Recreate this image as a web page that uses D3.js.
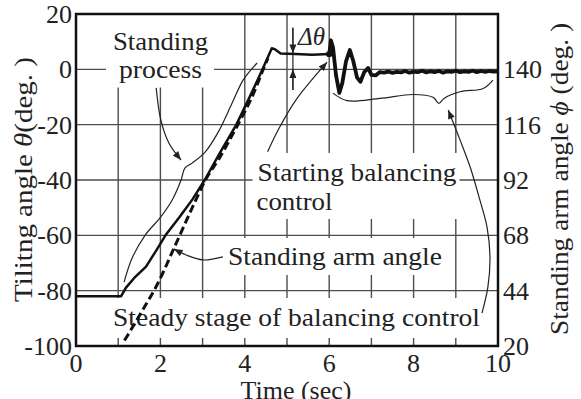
<!doctype html>
<html>
<head>
<meta charset="utf-8">
<script src="https://cdnjs.cloudflare.com/ajax/libs/d3/7.8.5/d3.min.js"></script>
<style>
  body { margin: 0; background: #fff; }
  #chart text { font-family: "Liberation Serif", "Times New Roman", serif; fill: #222; }
</style>
</head>
<body>
<svg id="chart" width="581" height="399"></svg>
<script>
// tilting angle theta while standing up (deg, left axis)
var riseTime  = [0, 1.07, 1.18, 1.38, 1.66, 1.9, 2.12, 2.45, 2.76, 3.05, 3.4, 3.8, 4.1, 4.42, 4.64, 4.72, 4.85, 5.2, 5.6, 6.0];
var riseTheta = [-82, -82, -79, -75.4, -71.3, -65.5, -60, -53.5, -47, -40, -30.5, -20, -10.5, 0, 7.6, 7.2, 5.7, 5.5, 5.3, 5.5];
// tilting angle theta after balancing control starts
var balTime  = [6.0, 6.04, 6.09, 6.16, 6.24, 6.31, 6.4, 6.49, 6.57, 6.66, 6.74, 6.83, 6.92, 7.0, 7.1, 7.2,
                7.3, 7.4, 7.5, 7.6, 7.7, 7.8, 7.9, 8.0, 8.1, 8.2, 8.3, 8.4, 8.5, 8.6, 8.7, 8.8, 8.9,
                9.0, 9.1, 9.2, 9.3, 9.4, 9.5, 9.6, 9.7, 9.8, 9.9, 10];
var balTheta = [5.5, 10.5, 8, -2, -8.5, -5, 3, 7, 3, -3, -4.5, -1, 0.5, -2, -2.2, -1,
                -1.2, -0.8, -1.3, -0.9, -1.1, -0.6, -1.2, -0.8, -1.0, -0.5, -1.1, -0.7, -1.0, -0.6, -1.2, -0.7, -0.9,
                -0.5, -1.0, -0.7, -0.9, -0.5, -1.0, -0.6, -0.9, -0.6, -0.8, -0.7];
// standing arm angle phi (deg, right axis)
var armTime = [1.15, 1.58, 1.94, 2.37, 2.8, 3.05, 3.4, 3.8, 4.2, 4.45, 4.55];
var armPhi  = [22.4, 35.6, 47.2, 64.4, 81.8, 91.4, 101.6, 114.8, 129.2, 140.6, 144.8];

var xTicks = [0, 2, 4, 6, 8, 10];
var leftTicks = [-100, -80, -60, -40, -20, 0, 20];
var rightTicks = [20, 44, 68, 92, 116, 140];
var vGrid = [1, 2, 3, 4, 5, 6, 7, 8, 9];
var hGrid = [-80, -60, -40, -20, 0];

// annotation shapes, in (time, theta)
var riseBrace = [[1.14,-76.9],[1.33,-68.2],[1.64,-59.9],[1.99,-53.7],[2.28,-47.2],[2.49,-40],[2.58,-35.7],
                 [2.75,-33.9],[3.06,-29.9],[3.37,-22.7],[3.7,-12.2],[3.96,-3.9],[4.29,2.3]];
var steadyBrace = [[6.09,-8.6],[6.42,-11.3],[7.2,-10.5],[7.99,-9.1],[8.46,-10.1],[8.6,-12.3],[8.72,-10.5],
                   [9.1,-8.1],[9.65,-6.9],[9.88,-3.9]];
var processArrow = [[1.9,-6.7],[2.01,-18.3],[2.2,-26.6],[2.49,-32.8]];
var startArrow = [[4.54,-29.8],[4.79,-21.9],[5.21,-11.1],[5.95,2.6]];
var armArrow = [[3.48,-67.8],[3.01,-68.9],[2.61,-67.1],[2.32,-64.9]];
var steadyArrow = [[9.62,-88.1],[9.76,-78.7],[9.81,-67.8],[9.74,-57],[9.57,-47.2],[9.34,-35.3],[9.1,-25.5],[8.82,-14.7]];

var svg = d3.select("#chart"),
    plotL = 76, plotR = 498, plotT = 14, plotB = 346;

var x = d3.scaleLinear().domain([0, 10]).range([plotL, plotR]);
var y = d3.scaleLinear().domain([-100, 20]).range([plotB, plotT]);
var yr = d3.scaleLinear().domain([20, 164]).range([plotB, plotT]);

svg.append("defs").append("marker")
    .attr("id", "arrow")
    .attr("viewBox", "0 0 10 8")
    .attr("refX", 10).attr("refY", 4)
    .attr("markerWidth", 10).attr("markerHeight", 7)
    .attr("markerUnits", "userSpaceOnUse")
    .attr("orient", "auto")
    .append("path").attr("d", "M0,0L10,4L0,8z").attr("fill", "#222");

// grid
var grid = svg.append("g").attr("stroke", "#4d4d4d").attr("stroke-width", 1.4);
grid.selectAll(".v").data(vGrid).enter().append("line")
    .attr("x1", d => x(d)).attr("x2", d => x(d))
    .attr("y1", y(20)).attr("y2", y(-100));
grid.selectAll(".h").data(hGrid).enter().append("line")
    .attr("x1", x(0)).attr("x2", x(10))
    .attr("y1", d => y(d)).attr("y2", d => y(d));

// labels in the plot, each with a white box that breaks the grid
var notes = [
  {lines: [{s: "Standing", x: 160.5, y: 50, w: 95}, {s: "process", x: 160.5, y: 77.5, w: 83}], anchor: "middle", pad: [14, 6, 4, 7]},
  {lines: [{s: "Starting balancing", x: 257.5, y: 181, w: 199}, {s: "control", x: 256.5, y: 210, w: 76}], anchor: "start", pad: [5, 3, 3, 4]},
  {lines: [{s: "Standing arm angle", x: 228, y: 265, w: 214}], anchor: "start", pad: [4, 3, 4, 2]},
  {lines: [{s: "Steady stage of balancing control", x: 113, y: 326, w: 367}], anchor: "start", pad: [5, 2, 6, 3]}
];
var boxLayer = svg.append("g");
var textLayer = svg.append("g");
notes.forEach(function(n) {
    var x0 = 1e9, y0 = 1e9, x1 = -1e9, y1 = -1e9;
    n.lines.forEach(function(l) {
        var t = textLayer.append("text")
            .attr("x", l.x).attr("y", l.y)
            .attr("text-anchor", n.anchor)
            .attr("font-size", 26)
            .attr("textLength", l.w)
            .attr("lengthAdjust", "spacingAndGlyphs")
            .text(l.s);
        var b = t.node().getBBox();
        x0 = Math.min(x0, b.x); y0 = Math.min(y0, b.y);
        x1 = Math.max(x1, b.x + b.width); y1 = Math.max(y1, b.y + b.height);
    });
    boxLayer.append("rect")
        .attr("x", x0 - n.pad[3]).attr("y", y0 - n.pad[0])
        .attr("width", x1 - x0 + n.pad[1] + n.pad[3])
        .attr("height", y1 - y0 + n.pad[0] + n.pad[2])
        .attr("fill", "#fff");
});

// frame
svg.append("rect")
    .attr("x", plotL).attr("y", plotT)
    .attr("width", plotR - plotL).attr("height", plotB - plotT)
    .attr("fill", "none").attr("stroke", "#111").attr("stroke-width", 2.5);

// data
var lineT = d3.line().x(d => x(d[0])).y(d => y(d[1]));
var lineP = d3.line().x(d => x(d[0])).y(d => yr(d[1])).curve(d3.curveMonotoneX);

svg.append("path")
    .attr("d", lineT(riseTime.map((t, i) => [t, riseTheta[i]])))
    .attr("fill", "none").attr("stroke", "#111").attr("stroke-width", 2.5)
    .attr("stroke-linejoin", "round");
svg.append("path")
    .attr("d", lineP(armTime.map((t, i) => [t, armPhi[i]])))
    .attr("fill", "none").attr("stroke", "#111").attr("stroke-width", 3)
    .attr("stroke-dasharray", "8,4");
svg.append("path")
    .attr("d", lineT(balTime.map((t, i) => [t, balTheta[i]])))
    .attr("fill", "none").attr("stroke", "#111").attr("stroke-width", 3.8)
    .attr("stroke-linejoin", "round");
svg.append("circle")
    .attr("cx", x(6)).attr("cy", y(5.5)).attr("r", 3.2).attr("fill", "#111");

// annotation curves
var curve = d3.line().x(d => x(d[0])).y(d => y(d[1])).curve(d3.curveCatmullRom);
var notesG = svg.append("g").attr("fill", "none").attr("stroke", "#222").attr("stroke-width", 1.2);
notesG.append("path").attr("d", curve(riseBrace));
notesG.append("path").attr("d", curve(steadyBrace));
[processArrow, startArrow, armArrow, steadyArrow].forEach(function(a) {
    notesG.append("path").attr("d", curve(a)).attr("marker-end", "url(#arrow)");
});

// delta theta
var dx = x(5.14);
notesG.append("line").attr("x1", dx).attr("x2", dx).attr("y1", y(15)).attr("y2", y(-7.5));
notesG.append("path").attr("d", "M" + dx + "," + y(15) + "V" + y(5.8)).attr("marker-end", "url(#arrow)");
notesG.append("path").attr("d", "M" + dx + "," + y(-7.5) + "V" + y(0)).attr("marker-end", "url(#arrow)");
svg.append("text")
    .attr("x", 298).attr("y", 45)
    .attr("font-size", 25).attr("font-style", "italic")
    .text("\u0394\u03b8");

// tick labels
svg.append("g").selectAll("text").data(leftTicks).enter().append("text")
    .attr("x", 72).attr("y", d => y(d)).attr("dy", "0.35em")
    .attr("text-anchor", "end").attr("font-size", 26)
    .text(d => d);
svg.append("g").selectAll("text").data(rightTicks).enter().append("text")
    .attr("x", 503).attr("y", d => yr(d)).attr("dy", "0.35em")
    .attr("font-size", 26)
    .text(d => d);
svg.append("g").selectAll("text").data(xTicks).enter().append("text")
    .attr("x", d => x(d)).attr("y", 372)
    .attr("text-anchor", "middle").attr("font-size", 26)
    .text(d => d);

// axis titles
svg.append("text")
    .attr("x", 296).attr("y", 399)
    .attr("text-anchor", "middle").attr("font-size", 26)
    .text("Time (sec)");

var yl = svg.append("text")
    .attr("transform", "translate(32,179.5) rotate(-90)")
    .attr("text-anchor", "middle").attr("font-size", 26)
    .attr("textLength", 245).attr("lengthAdjust", "spacingAndGlyphs");
yl.append("tspan").text("Tilitng angle ");
yl.append("tspan").attr("font-style", "italic").text("\u03b8");
yl.append("tspan").text("(deg. )");

var yrl = svg.append("text")
    .attr("transform", "translate(568,179) rotate(-90)")
    .attr("text-anchor", "middle").attr("font-size", 26)
    .attr("textLength", 312).attr("lengthAdjust", "spacingAndGlyphs");
yrl.append("tspan").text("Standing arm angle ");
yrl.append("tspan").attr("font-style", "italic").text("\u03d5");
yrl.append("tspan").text(" (deg. )");
</script>
</body>
</html>
